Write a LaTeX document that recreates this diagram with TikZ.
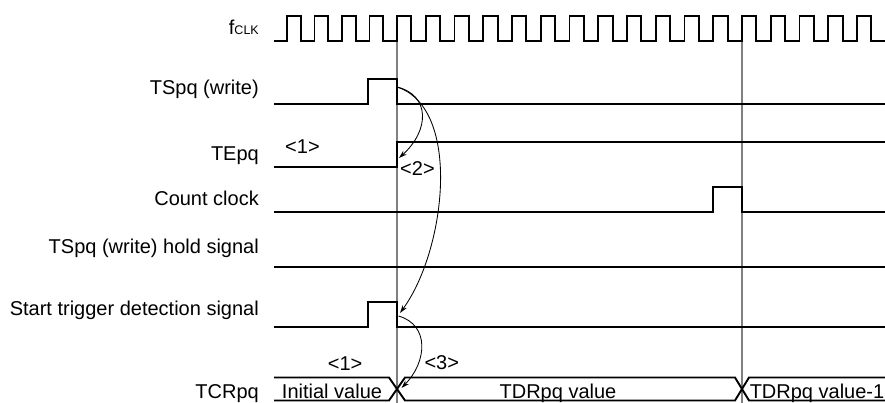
\documentclass[tikz,border=0pt]{standalone}
\usepackage{fontspec}
\setmainfont{Liberation Sans}
\usetikzlibrary{arrows.meta}

\begin{document}
\begin{tikzpicture}[x=1pt,y=-1pt,
  sig/.style={line width=1.9pt,line join=miter},
  guide/.style={black!50,line width=1.2pt},
  cause/.style={line width=0.85pt,-{Stealth[length=8pt,width=5pt]}},
  lbl/.style={anchor=base east,inner sep=0pt,font=\fontsize{20}{24}\selectfont},
  txt/.style={anchor=base,inner sep=0pt,font=\fontsize{20}{24}\selectfont}]
  \useasboundingbox (0,0) rectangle (885,403);

  \draw[guide] (397,15) -- (397,403);
  \draw[guide] (742,15) -- (742,403);

  \draw[sig] (274,41)
    foreach \x in {287,314.5,342,369.5} { -- (\x,41) -- (\x,16) -- ++(13.7,0) -- ++(0,25) }
    foreach \k in {0,...,16} { -- ({397+28.75*\k},41) -- ++(0,-25) -- ++(14.4,0) -- ++(0,25) }
    -- (885,41);
  \draw[sig] (274,104) -- (368.25,104) -- (368.25,79) -- (397,79) -- (397,104) -- (885,104);
  \draw[sig] (274,167) -- (397,167) -- (397,142) -- (885,142);
  \draw[sig] (274,212) -- (713.25,212) -- (713.25,187) -- (742,187) -- (742,212) -- (885,212);
  \draw[sig] (274,267) -- (885,267);
  \draw[sig] (274,327) -- (368.25,327) -- (368.25,302) -- (397,302) -- (397,327) -- (885,327);
  \draw[sig] (274,377.5) -- (389,377.5) -- (405,400.5) -- (735,400.5) -- (749,377.5) -- (885,377.5);
  \draw[sig] (274,400.5) -- (389,400.5) -- (405,377.5) -- (735,377.5) -- (749,400.5) -- (885,400.5);

  \node[lbl] (fclk) at (259,35) {f{\fontsize{12.5}{12.5}\selectfont CLK}};
  \node[lbl] (tsw) at (259,95) {TSpq (write)};
  \node[lbl] (tep) at (259,160.7) {TEpq};
  \node[lbl] (cclk) at (259,206) {Count clock};
  \node[lbl] (hold) at (259,254) {TSpq (write) hold signal};
  \node[lbl] (trig) at (259,315) {Start trigger detection signal};
  \node[lbl] (tcrl) at (259,398.3) {TCRpq};

  \node[txt,anchor=base west] (one) at (285,154) {<1>};
  \node[txt,anchor=base west] (two) at (400,176) {<2>};
  \node[txt,anchor=base west] (onebus) at (327.7,370) {<1>};
  \node[txt,anchor=base west] (three) at (424.3,369.3) {<3>};
  \node[txt] (init) at (332,398) {Initial value};
  \node[txt] (tdr) at (558,398) {TDRpq value};
  \node[txt] (tdrm) at (817,398) {TDRpq value-1};

  \coordinate (wr) at (397,87);
  \coordinate (te) at (399,158);
  \coordinate (st) at (400,313);
  \coordinate (stout) at (398.5,316);
  \coordinate (tcr) at (401.5,388);
  \draw[cause] (wr) .. controls (430,95) and (430,130) .. (te);
  \draw[cause] (wr) .. controls (462,108) and (446,250) .. (st);
  \draw[cause] (stout) .. controls (430,325) and (427,362) .. (tcr);
\end{tikzpicture}
\end{document}
